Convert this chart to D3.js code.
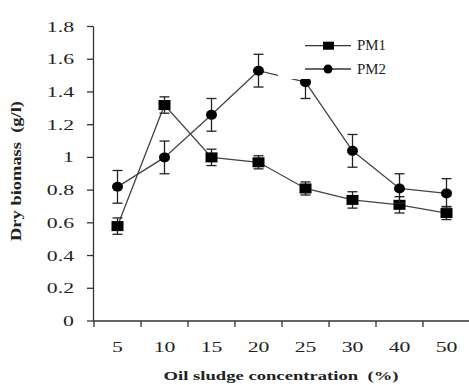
<!DOCTYPE html>
<html>
<head>
<meta charset="utf-8">
<script src="https://cdn.jsdelivr.net/npm/d3@7"></script>
<style>
  body { margin: 0; background: #fff; }
  svg { display: block; }
  text { font-family: "Liberation Serif", "DejaVu Serif", serif; fill: #222; }
</style>
</head>
<body>
<div id="viz"></div>
<script>
// concentrations on the x axis (categorical, not evenly spaced)
const categories = ['5', '10', '15', '20', '25', '30', '40', '50'];
// dry biomass (g/l) and error bars for both strains
const pm1 = [0.58, 1.32, 1.00, 0.97, 0.81, 0.74, 0.71, 0.66];
const pm1Err = [0.05, 0.05, 0.05, 0.04, 0.04, 0.05, 0.05, 0.04];
const pm2 = [0.82, 1.00, 1.26, 1.53, 1.46, 1.04, 0.81, 0.78];
const pm2Err = [0.10, 0.10, 0.10, 0.10, 0.10, 0.10, 0.09, 0.09];
const yTicks = [0, 0.2, 0.4, 0.6, 0.8, 1, 1.2, 1.4, 1.6, 1.8];
const seriesNames = ['PM1', 'PM2'];

const W = 469, H = 385;
const svg = d3.select('#viz').append('svg')
  .attr('width', W)
  .attr('height', H);

const x = d3.scaleBand().domain(categories).range([94, 470]).padding(0);
const y = d3.scaleLinear().domain([0, 1.8]).range([321, 26.5]);
const stretch = 'scale(1.45,1)';

// y axis line + ticks
svg.append('line')
  .attr('x1', 93.5).attr('x2', 93.5)
  .attr('y1', y(1.8)).attr('y2', y(0))
  .attr('stroke', '#333').attr('stroke-width', 1.3);
svg.selectAll('.ytick').data(yTicks).enter().append('line')
  .attr('x1', 87).attr('x2', 93.5)
  .attr('y1', d => y(d)).attr('y2', d => y(d))
  .attr('stroke', '#333').attr('stroke-width', 1.3);
svg.selectAll('.ylab').data(yTicks).enter().append('text')
  .attr('transform', d => `translate(74,${y(d) + 5}) ${stretch}`)
  .attr('text-anchor', 'end')
  .attr('font-size', 15)
  .text(d => String(+d.toFixed(1)));

// x axis line + boundary ticks
svg.append('line')
  .attr('x1', 93).attr('x2', 470)
  .attr('y1', 321).attr('y2', 321)
  .attr('stroke', '#333').attr('stroke-width', 1.3);
svg.selectAll('.xtick').data(categories).enter().append('line')
  .attr('x1', d => x(d)).attr('x2', d => x(d))
  .attr('y1', 321).attr('y2', 327)
  .attr('stroke', '#333').attr('stroke-width', 1.3);
svg.selectAll('.xlab').data(categories).enter().append('text')
  .attr('transform', d => `translate(${x(d) + x.bandwidth() / 2},352) ${stretch}`)
  .attr('text-anchor', 'middle')
  .attr('font-size', 15)
  .text(d => d);

// axis titles
svg.append('text')
  .attr('x', 281).attr('y', 380)
  .attr('text-anchor', 'middle')
  .attr('font-size', 13).attr('font-weight', 'bold')
  .attr('textLength', 235).attr('lengthAdjust', 'spacingAndGlyphs')
  .text('Oil sludge concentration\u00a0\u00a0(%)');
svg.append('text')
  .attr('transform', 'translate(21,171) scale(1.3,1) rotate(-90)')
  .attr('text-anchor', 'middle')
  .attr('font-size', 12).attr('font-weight', 'bold')
  .attr('textLength', 140).attr('lengthAdjust', 'spacingAndGlyphs')
  .text('Dry biomass\u00a0\u00a0(g/l)');

const cx = i => x(categories[i]) + x.bandwidth() / 2;
const line = d3.line().x((d, i) => cx(i)).y(d => y(d));

function drawSeries(vals, errs, shape) {
  const g = svg.append('g');
  g.append('path').datum(vals)
    .attr('d', line)
    .attr('fill', 'none')
    .attr('stroke', '#444')
    .attr('stroke-width', 1.3);
  const eb = g.selectAll('.eb').data(vals).enter().append('g');
  eb.append('line')
    .attr('x1', (d, i) => cx(i)).attr('x2', (d, i) => cx(i))
    .attr('y1', (d, i) => y(d + errs[i])).attr('y2', (d, i) => y(d - errs[i]))
    .attr('stroke', '#222').attr('stroke-width', 1.3);
  [1, -1].forEach(s => {
    eb.append('line')
      .attr('x1', (d, i) => cx(i) - 5).attr('x2', (d, i) => cx(i) + 5)
      .attr('y1', (d, i) => y(d + s * errs[i])).attr('y2', (d, i) => y(d + s * errs[i]))
      .attr('stroke', '#222').attr('stroke-width', 1.3);
  });
  if (shape === 'square') {
    g.selectAll('.m').data(vals).enter().append('rect')
      .attr('x', (d, i) => cx(i) - 6).attr('y', d => y(d) - 5)
      .attr('width', 12).attr('height', 10)
      .attr('fill', '#000');
  } else {
    g.selectAll('.m').data(vals).enter().append('ellipse')
      .attr('cx', (d, i) => cx(i)).attr('cy', d => y(d))
      .attr('rx', 5.5).attr('ry', 5)
      .attr('fill', '#000');
  }
}

drawSeries(pm1, pm1Err, 'square');
drawSeries(pm2, pm2Err, 'circle');

// legend with opaque white box (covers part of the data, as in the original)
const leg = svg.append('g');
leg.append('rect')
  .attr('x', 278).attr('y', 32).attr('width', 120).attr('height', 47)
  .attr('fill', '#fff');
const legY = [45.7, 69];
seriesNames.forEach((name, i) => {
  leg.append('line')
    .attr('x1', 305).attr('x2', 351)
    .attr('y1', legY[i]).attr('y2', legY[i])
    .attr('stroke', '#333').attr('stroke-width', 1.3);
  if (i === 0) {
    leg.append('rect')
      .attr('x', 323).attr('y', legY[i] - 4).attr('width', 11).attr('height', 8)
      .attr('fill', '#000');
  } else {
    leg.append('ellipse')
      .attr('cx', 328).attr('cy', legY[i]).attr('rx', 4.5).attr('ry', 4.5)
      .attr('fill', '#000');
  }
  leg.append('text')
    .attr('x', 357).attr('y', legY[i] + 4.5)
    .attr('font-size', 14)
    .attr('textLength', 29).attr('lengthAdjust', 'spacingAndGlyphs')
    .text(name);
});
</script>
</body>
</html>
